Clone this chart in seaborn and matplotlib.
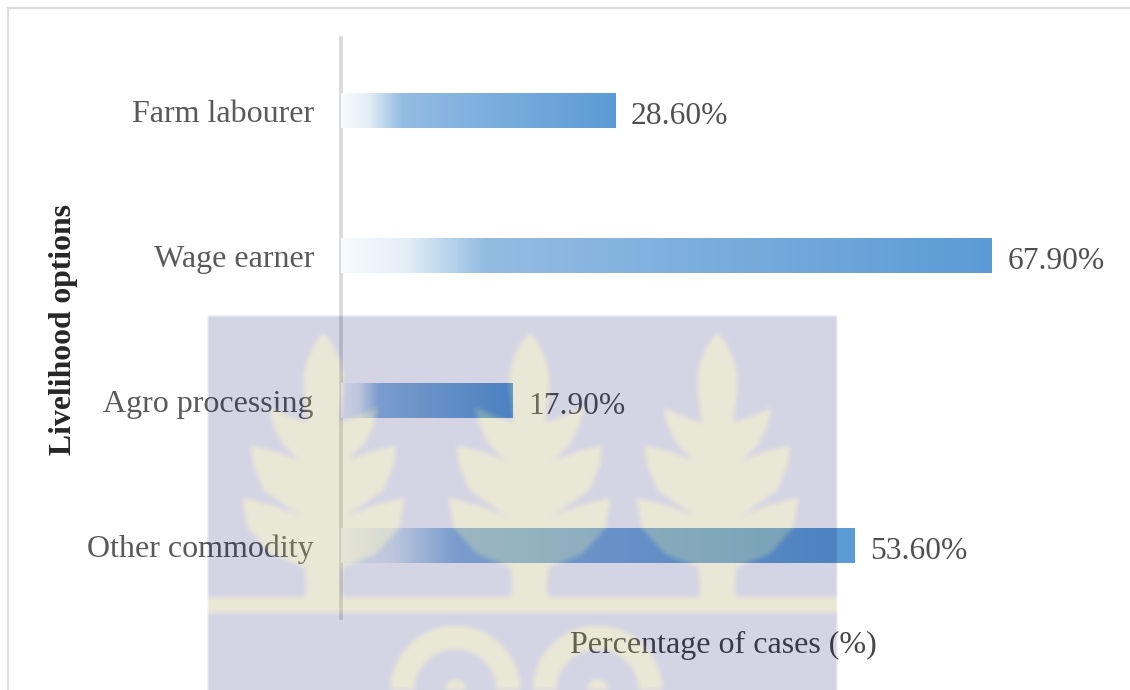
import numpy as np
import pandas as pd
import seaborn as sns
import matplotlib.pyplot as plt
from matplotlib.colors import LinearSegmentedColormap
from matplotlib.path import Path
from matplotlib.patches import Rectangle

# chart data
labels = ['Farm labourer', 'Wage earner', 'Agro processing', 'Other commodity']
values = [28.6, 67.9, 17.9, 53.6]
value_text = ['28.60%', '67.90%', '17.90%', '53.60%']

W, H = 1130, 690

sns.set_theme(style='white')
plt.rcParams['font.family'] = ['Liberation Serif', 'DejaVu Serif']

fig = plt.figure(figsize=(11.3, 6.9), dpi=100, facecolor='white')

# outer frame of the chart area
fig.add_artist(Rectangle((8 / W, -0.1), 1.1, 1 - 8 / H + 0.1, transform=fig.transFigure,
                         fill=False, edgecolor='#dcdcdc', linewidth=1.6))

# axes box in pixels: x 341..1108, y 38..618
ax = fig.add_axes([341 / W, 1 - 618 / H, 767 / W, 580 / H])
ax.patch.set_alpha(0)

df = pd.DataFrame({'option': labels, 'pct': values})
sns.barplot(data=df, x='pct', y='option', orient='h', width=0.24, color='#5b9bd5',
            linewidth=0, ax=ax)
ax.set_xlim(0, 80)
ax.set_ylim(3.5, -0.5)

# horizontal fade on each bar
fade = LinearSegmentedColormap.from_list('fade', [
    (0.0, (248 / 255, 251 / 255, 253 / 255)),
    (0.1, (228 / 255, 238 / 255, 247 / 255)),
    (0.22, (148 / 255, 188 / 255, 227 / 255)),
    (1.0, (91 / 255, 155 / 255, 213 / 255)),
])
grad = np.linspace(0, 1, 256).reshape(1, -1)
for bar in ax.patches:
    x0, y0 = bar.get_x(), bar.get_y()
    ax.imshow(grad, cmap=fade, aspect='auto', zorder=3,
              extent=(x0, x0 + bar.get_width(), y0 + bar.get_height(), y0))
ax.set_xlim(0, 80)
ax.set_ylim(3.5, -0.5)

texts = ax.bar_label(ax.containers[0], labels=value_text, padding=11, fontsize=22.7,
                     color='#505050', zorder=4)
for t in texts:
    t.xyann = (t.xyann[0], t.xyann[1] - 4.5)

sns.despine(ax=ax, top=True, right=True, bottom=True)
ax.spines['left'].set_color('#d8d8d8')
ax.spines['left'].set_linewidth(2.6)
ax.set_xticks([])
ax.tick_params(axis='y', length=0, pad=19.5, labelsize=23, labelcolor='#595959')

ax.set_xlabel('Percentage of cases (%)', fontsize=23, color='#454545')
ax.xaxis.set_label_coords((723 - 341) / 767, -(631 - 618) / 580, transform=ax.transAxes)
ax.xaxis.label.set_verticalalignment('top')
ax.set_ylabel('Livelihood options', fontsize=22.8, fontweight='bold', color='#262626')
ax.yaxis.set_label_coords((78 - 341) / 767, (618 - 329) / 580, transform=ax.transAxes)

# watermark crest, laid over the chart so bars and text show through
yy, xx = np.mgrid[0:H, 0:W]
rect = ((xx >= 208) & (xx < 837) & (yy >= 316)).astype(float)

half = [(0, 332), (9, 343), (16, 358), (20, 375), (19, 395), (16, 422), (36, 415), (54, 407),
        (50, 425), (40, 445), (24, 460), (50, 450), (73, 445), (70, 465), (60, 490), (24, 515),
        (50, 505), (81, 497), (76, 527), (53, 553), (19, 567), (17, 590), (20, 597)]
crest = np.zeros((H, W))
pts = np.column_stack([xx.ravel(), yy.ravel()])
for cx in [323, 529, 717]:
    outline = [(cx + d, y) for d, y in half] + [(cx - d, y) for d, y in half[::-1]]
    crest = np.maximum(crest, Path(outline).contains_points(pts).reshape(H, W).astype(float))
crest[(yy >= 597) & (yy < 613)] = 1
for cx in [455, 597]:
    r = np.hypot(xx - cx, yy - 690)
    crest[((r < 65) & (r > 41)) | (r < 11)] = 1

# soft edges
for axis in (0, 1):
    crest = sum(np.roll(crest, s, axis=axis) for s in range(-3, 4)) / 7
    rect = sum(np.roll(rect, s, axis=axis) for s in (-1, 0, 1)) / 3
rect[-2:, :] = rect[-3, :]
rect[:5, :] = 0

a_back, a_leaf = 0.17, 0.28
c_back = np.array([2, 2, 96]) / 255
c_leaf = np.array([178, 170, 108]) / 255
rgba = np.zeros((H, W, 4))
alpha = a_back * (1 - crest) + a_leaf * crest
for i in range(3):
    rgba[..., i] = (a_back * c_back[i] * (1 - crest) + a_leaf * c_leaf[i] * crest) / alpha
rgba[..., 3] = alpha * rect

over = fig.add_axes([0, 0, 1, 1], zorder=5)
over.imshow(rgba, aspect='auto', interpolation='nearest')
over.axis('off')

fig.savefig('out.png', dpi=100)
